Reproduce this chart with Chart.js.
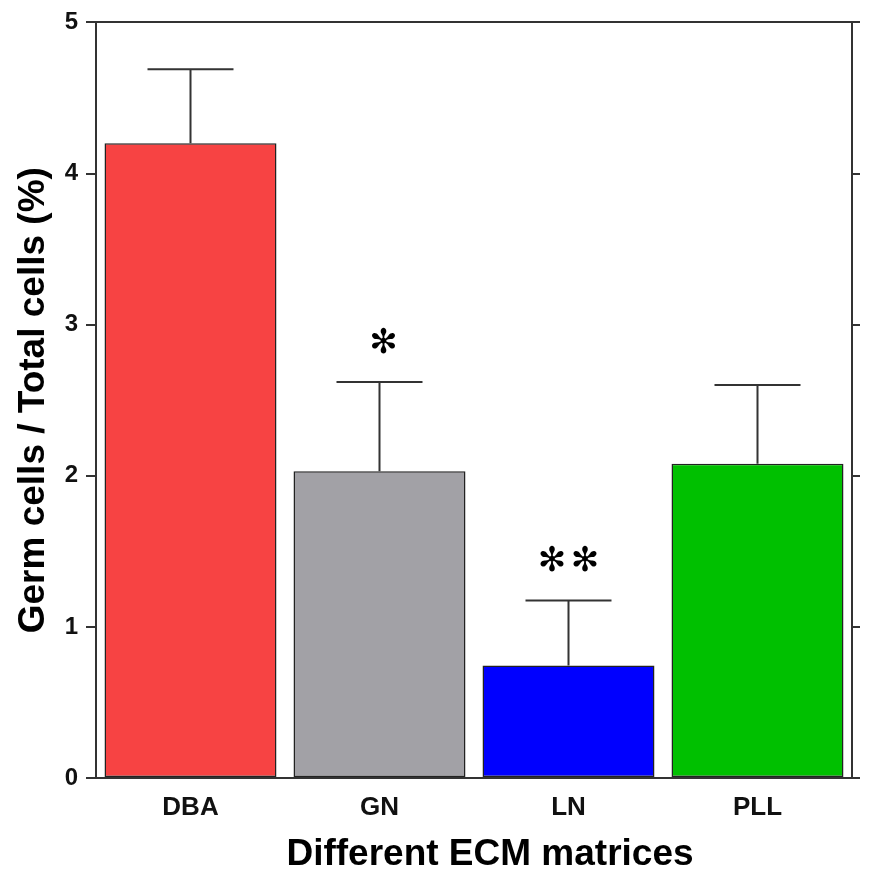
<!DOCTYPE html>
<html>
<head>
<meta charset="utf-8">
<script src="https://cdn.jsdelivr.net/npm/chart.js@4/dist/chart.umd.min.js"></script>
<style>
html,body{margin:0;padding:0;background:#fff;}
#wrap{width:876px;height:877px;}
</style>
</head>
<body>
<div id="wrap"><canvas id="c" width="876" height="877"></canvas></div>
<script>
const categories = ["DBA", "GN", "LN", "PLL"];
const means = [4.2, 2.03, 0.745, 2.08];
const errors = [0.49, 0.59, 0.43, 0.52];
const marks = ["", "\u273B", "\u273B\u273B", ""];
const barColors = ["#F74343", "#A2A1A6", "#0000FF", "#00C000"];
const yTicks = [0, 1, 2, 3, 4, 5];
const xTitle = "Different ECM matrices";
const yTitle = "Germ cells / Total cells (%)";

const axisColor = "#333333";

const errorBarPlugin = {
  id: "errorBars",
  afterDatasetsDraw(chart) {
    const ctx = chart.ctx;
    const meta = chart.getDatasetMeta(0);
    const y = chart.scales.y;
    ctx.save();
    ctx.strokeStyle = axisColor;
    ctx.lineWidth = 2;
    meta.data.forEach((bar, i) => {
      const top = y.getPixelForValue(means[i] + errors[i]);
      const base = y.getPixelForValue(means[i]);
      const half = bar.width / 4;
      ctx.beginPath();
      ctx.moveTo(bar.x, base);
      ctx.lineTo(bar.x, top);
      ctx.moveTo(bar.x - half, top);
      ctx.lineTo(bar.x + half, top);
      ctx.stroke();
      const m = marks[i];
      if (m) {
        ctx.fillStyle = "#000";
        ctx.font = '34px "DejaVu Sans"';
        ctx.textAlign = "center";
        ctx.textBaseline = "middle";
        const chars = Array.from(m);
        const n = chars.length;
        chars.forEach((ch, k) => {
          const cx = bar.x + (n === 1 ? 4 : (k - (n - 1) / 2) * 33);
          ctx.fillText(ch, cx, top - 38);
        });
      }
    });
    ctx.restore();
  }
};

const xTitlePlugin = {
  id: "xTitle",
  afterDraw(chart) {
    const ctx = chart.ctx;
    const a = chart.chartArea;
    ctx.save();
    ctx.fillStyle = "#000";
    ctx.font = 'bold 37px "Liberation Sans"';
    ctx.textAlign = "center";
    ctx.textBaseline = "alphabetic";
    ctx.fillText(xTitle, (a.left + a.right) / 2 + 16, a.bottom + 87);
    ctx.restore();
  }
};

new Chart(document.getElementById("c"), {
  type: "bar",
  data: {
    labels: categories,
    datasets: [{
      data: means,
      backgroundColor: barColors,
      borderColor: "#222222",
      borderWidth: 1.5,
      borderSkipped: false,
      barPercentage: 0.91,
      categoryPercentage: 1.0
    }]
  },
  options: {
    responsive: false,
    animation: false,
    devicePixelRatio: 1,
    layout: { padding: { top: 22, left: 0, right: 0, bottom: 0 } },
    plugins: { legend: { display: false }, tooltip: { enabled: false } },
    scales: {
      x: {
        position: "bottom",
        grid: { display: false },
        border: { display: true, color: axisColor, width: 2 },
        ticks: { color: "#111", font: { family: "Liberation Sans", weight: "bold", size: 26 }, padding: 6 },
        title: { display: false },
        afterFit(s) { s.height = 99; }
      },
      xTop: {
        position: "top",
        grid: { display: false },
        border: { display: true, color: axisColor, width: 2 },
        ticks: { display: false },
        afterFit(s) { s.height = 0; }
      },
      y: {
        position: "left",
        min: 0, max: 5,
        afterBuildTicks(s) { s.ticks = yTicks.map(v => ({ value: v })); },
        grid: { drawOnChartArea: false, drawTicks: true, tickLength: 10, color: axisColor, lineWidth: 2 },
        border: { display: true, color: axisColor, width: 2 },
        ticks: { color: "#111", font: { family: "Liberation Sans", weight: "bold", size: 24 }, padding: 8 },
        title: { display: true, text: yTitle, color: "#000",
                 font: { family: "Liberation Sans", weight: "bold", size: 37 }, padding: { top: 12, bottom: 0 } },
        afterFit(s) { s.width = 96; }
      },
      yRight: {
        position: "right",
        min: 0, max: 5,
        afterBuildTicks(s) { s.ticks = yTicks.map(v => ({ value: v })); },
        grid: { drawOnChartArea: false, drawTicks: true, tickLength: 8, color: axisColor, lineWidth: 2 },
        border: { display: true, color: axisColor, width: 2 },
        ticks: { display: false },
        afterFit(s) { s.width = 24; }
      }
    }
  },
  plugins: [errorBarPlugin, xTitlePlugin]
});
</script>
</body>
</html>
